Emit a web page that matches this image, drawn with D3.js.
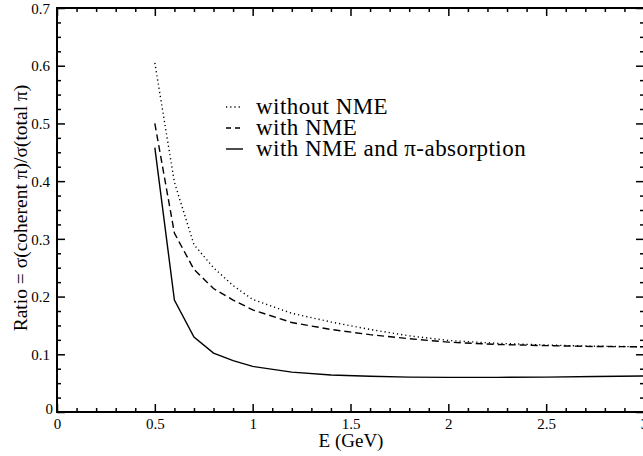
<!DOCTYPE html>
<html lang="en">
<head>
    <meta charset="utf-8">
    <title>D3: Coherent pion ratio</title>
    <script type="text/javascript" src="https://d3js.org/d3.v7.min.js"></script>
    <style>
        body { margin: 0; background: #fff; }
    </style>
</head>
<body>
    <script type="text/javascript">

        // Energy grid (GeV) and the three ratio curves
        var energy = [0.5, 0.6, 0.7, 0.8, 0.9, 1.0, 1.2, 1.4, 1.6, 1.8, 2.0, 2.25, 2.5, 2.75, 3.0];
        var withoutNME = [0.605, 0.398, 0.290, 0.250, 0.219, 0.195, 0.171, 0.156, 0.143, 0.132, 0.124, 0.119, 0.116, 0.114, 0.113];
        var withNME = [0.500, 0.310, 0.247, 0.214, 0.194, 0.177, 0.155, 0.143, 0.134, 0.127, 0.121, 0.117, 0.115, 0.1135, 0.113];
        var withAbsorption = [0.458, 0.194, 0.130, 0.102, 0.089, 0.079, 0.069, 0.064, 0.062, 0.0605, 0.060, 0.060, 0.0605, 0.0615, 0.0625];

        var seriesNames = ["without NME", "with NME", "with NME and \u03c0-absorption"];
        var xTicks = [0, 0.5, 1, 1.5, 2, 2.5, 3];
        var yTicks = [0, 0.1, 0.2, 0.3, 0.4, 0.5, 0.6, 0.7];

        var width = 643, height = 456;
        var serif = "Liberation Serif";

        var svg = d3.select("body").append("svg")
            .attr("width", width)
            .attr("height", height);

        var x = d3.scaleLinear().domain([0, 3]).range([57, 644]);
        var y = d3.scaleLinear().domain([0, 0.7]).range([412, 8]);

        var xMinor = d3.range(0, 3.0001, 0.1).filter(function(v) { return Math.abs(v * 2 - Math.round(v * 2)) > 1e-6; });
        var yMinor = d3.range(0, 0.70001, 0.025).filter(function(v) { return Math.abs(v * 10 - Math.round(v * 10)) > 1e-6; });

        function styleAxis(g) {
            g.select(".domain").remove();
            g.selectAll("line").attr("stroke", "#000").attr("stroke-width", 1.5);
            g.selectAll("text")
                .style("font-family", serif)
                .style("font-size", "15px")
                .attr("fill", "#000");
        }

        // bottom axis (labels) + minor ticks
        svg.append("g")
            .attr("transform", "translate(0," + y(0) + ")")
            .call(d3.axisBottom(x).tickValues(xTicks).tickSizeInner(-8).tickSizeOuter(0).tickPadding(3)
                .tickFormat(function(d) { return d3.format("")(d); }))
            .call(styleAxis)
            .selectAll("text").attr("dy", "0.9em");
        svg.append("g")
            .attr("transform", "translate(0," + y(0) + ")")
            .call(d3.axisBottom(x).tickValues(xMinor).tickSize(-4).tickFormat(""))
            .call(styleAxis);

        // top axis
        svg.append("g")
            .attr("transform", "translate(0," + y(0.7) + ")")
            .call(d3.axisTop(x).tickValues(xTicks).tickSize(-8).tickFormat(""))
            .call(styleAxis);
        svg.append("g")
            .attr("transform", "translate(0," + y(0.7) + ")")
            .call(d3.axisTop(x).tickValues(xMinor).tickSize(-4).tickFormat(""))
            .call(styleAxis);

        // left axis
        svg.append("g")
            .attr("transform", "translate(" + x(0) + ",0)")
            .call(d3.axisLeft(y).tickValues(yTicks).tickSize(-8)
                .tickFormat(function(d) { return d3.format("")(+d.toFixed(1)); }))
            .call(styleAxis)
            .selectAll("text")
            .attr("x", function(d) { return d === 0 ? -4 : -7; })
            .attr("dy", function(d) { return d === 0 ? "0.1em" : "0.35em"; });
        svg.append("g")
            .attr("transform", "translate(" + x(0) + ",0)")
            .call(d3.axisLeft(y).tickValues(yMinor).tickSize(-4).tickFormat(""))
            .call(styleAxis);

        // right axis
        svg.append("g")
            .attr("transform", "translate(" + x(3) + ",0)")
            .call(d3.axisRight(y).tickValues(yTicks).tickSize(-8).tickFormat(""))
            .call(styleAxis);
        svg.append("g")
            .attr("transform", "translate(" + x(3) + ",0)")
            .call(d3.axisRight(y).tickValues(yMinor).tickSize(-4).tickFormat(""))
            .call(styleAxis);

        // frame
        svg.append("rect")
            .attr("x", x(0)).attr("y", y(0.7))
            .attr("width", x(3) - x(0)).attr("height", y(0) - y(0.7))
            .attr("fill", "none").attr("stroke", "#000").attr("stroke-width", 2);

        // curves
        var dashes = ["1.2,3", "7,4", null];
        var allSeries = [withoutNME, withNME, withAbsorption];
        var line = d3.line()
            .x(function(d, i) { return x(energy[i]); })
            .y(function(d) { return y(d); });

        allSeries.forEach(function(values, k) {
            svg.append("path")
                .datum(values)
                .attr("d", line)
                .attr("fill", "none")
                .attr("stroke", "#000")
                .attr("stroke-width", 1.4)
                .attr("stroke-dasharray", dashes[k]);
        });

        // legend
        var legend = svg.append("g").attr("transform", "translate(226,114)");
        seriesNames.forEach(function(name, k) {
            legend.append("line")
                .attr("x1", 0).attr("x2", k === 2 ? 17 : 15)
                .attr("y1", k * 21 - 7).attr("y2", k * 21 - 7)
                .attr("stroke", "#000")
                .attr("stroke-width", 1.4)
                .attr("stroke-dasharray", k === 1 ? "5,4" : dashes[k]);
            legend.append("text")
                .attr("x", 30).attr("y", k * 21)
                .style("font-family", serif)
                .style("font-size", "23px")
                .style("letter-spacing", "0.45px")
                .text(name);
        });

        // axis titles
        svg.append("text")
            .attr("x", 351)
            .attr("y", 447)
            .attr("text-anchor", "middle")
            .style("font-family", serif)
            .style("font-size", "19px")
            .text("E (GeV)");

        svg.append("text")
            .attr("transform", "translate(27,208) rotate(-90)")
            .attr("text-anchor", "middle")
            .style("font-family", serif)
            .style("font-size", "19.5px")
            .text("Ratio = \u03c3(coherent \u03c0)/\u03c3(total \u03c0)");

    </script>
</body>
</html>
